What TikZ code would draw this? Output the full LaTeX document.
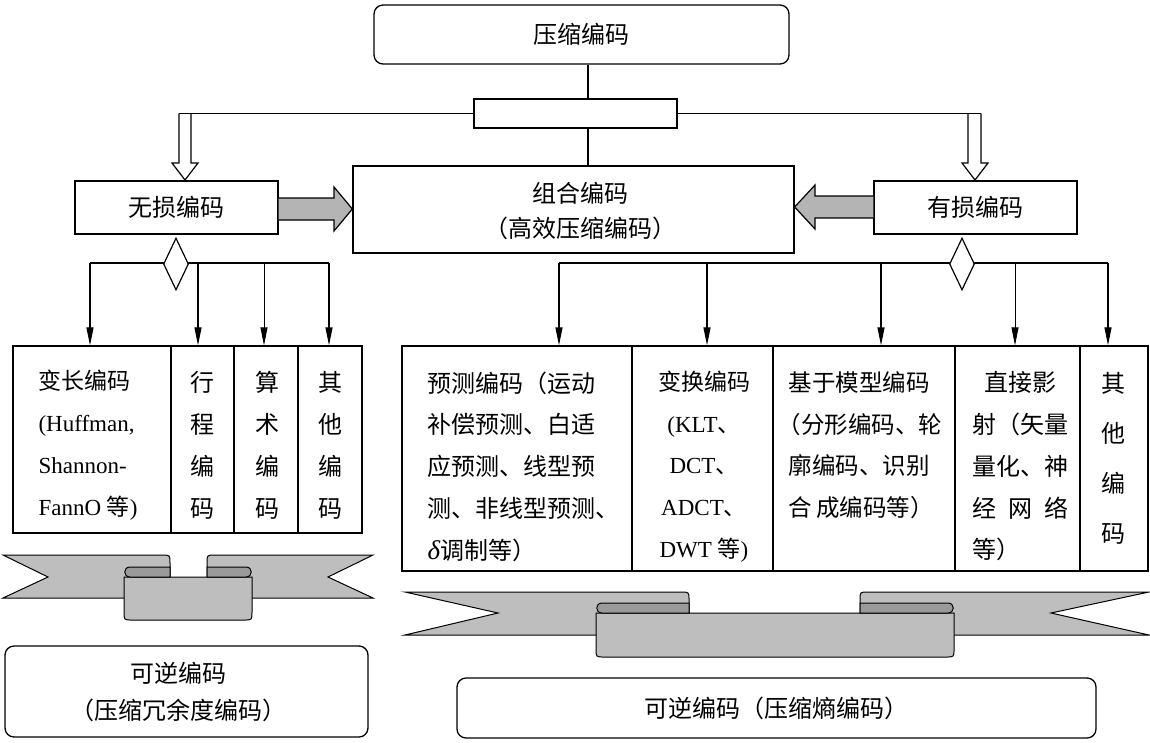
\documentclass[tikz,border=0pt]{standalone}
\usepackage{fontspec}
\setmainfont{Liberation Serif}
\newfontfamily\cjk{Noto Sans CJK SC}
\usetikzlibrary{arrows.meta,shapes.geometric}
\newcommand\zhs[1]{{\cjk #1}}
\definecolor{ribbonlight}{HTML}{BEBEBE}
\definecolor{ribbondark}{HTML}{9A9A9A}
\definecolor{arrowgray}{HTML}{B4B4B4}
\tikzset{
 box/.style={draw, line width=1.3pt, fill=white, inner sep=0pt},
 rbox/.style={box, rounded corners=9pt},
 zh/.style={font=\cjk\fontsize{24}{42}\selectfont},
 mix/.style={font=\fontsize{23}{42}\selectfont},
 conn/.style={line width=1.2pt},
 arr/.style={conn, -{Triangle[length=18pt,width=7pt]}},
 ribbon/.style={draw, line width=1pt, fill=ribbonlight},
 fold/.style={draw, line width=1pt, fill=ribbondark},
 grayarrow/.style={draw, line width=1.2pt, fill=arrowgray},
 hollow/.style={draw, line width=1.2pt, fill=white},
 dia/.style={diamond, draw, line width=1.2pt, fill=white, inner sep=0pt, minimum width=25pt, minimum height=52pt},
}
\begin{document}
\begin{tikzpicture}[x=1pt,y=-1pt]
\fill[white] (0,0) rectangle (1150,742);
\useasboundingbox (0,0) rectangle (1150,742);

% top level
\node[rbox, zh, minimum width=415pt, minimum height=59pt] (top) at (581.5,34.5) {压缩编码};
\node[box, minimum width=203pt, minimum height=29pt] (mid) at (575.5,113.5) {};
\node[box, minimum width=441pt, minimum height=87pt] (combo) at (573.5,209.5) {};
\node[zh, font=\cjk\fontsize{24}{35}\selectfont, align=center] (combot) at (580,211) {组合编码\\（高效压缩编码）};
\node[box, zh, minimum width=203pt, minimum height=53pt] (lossless) at (176.5,207.5) {无损编码};
\node[box, zh, minimum width=203pt, minimum height=53pt] (lossy) at (975.5,207.5) {有损编码};

\coordinate (cx) at (588,0);
\draw[conn] (top.south -| cx) -- (mid.north -| cx);
\draw[conn] (mid.south -| cx) -- (combo.north -| cx);

% hollow arrows
\draw[hollow] (179,113.5) -- (179,163) -- (172,163) -- (185,180) -- (198,163) -- (191,163) -- (191,113.5);
\draw[hollow] (968,113.5) -- (968,163) -- (962,163) -- (975,180) -- (988,163) -- (981,163) -- (981,113.5);
\coordinate (busl) at (179,113.5);
\coordinate (busr) at (981,113.5);
\draw[conn] (busl) -- (mid.west);
\draw[conn] (mid.east) -- (busr);

% gray arrows
\draw[grayarrow] (lossless.east |- 0,198) -- (334,198) -- (334,187) -- (combo.west |- 0,209) -- (334,231) -- (334,220) -- (lossless.east |- 0,220);
\draw[grayarrow] (lossy.west |- 0,196) -- (815,196) -- (815,185) -- (combo.east |- 0,207) -- (815,229) -- (815,218) -- (lossy.west |- 0,218);

% left branch
\coordinate (l1) at (90,263);
\coordinate (l2) at (198,263);
\coordinate (l3) at (264,263);
\coordinate (l4) at (329,263);
\draw[conn] (l1) -- (l4);
\node[dia] (dl) at (176,264) {};

\node[box, minimum width=158pt, minimum height=187pt] (c1) at (92,439.5) {};
\node[box, minimum width=63pt, minimum height=187pt] (c2) at (202.5,439.5) {};
\node[box, minimum width=64pt, minimum height=187pt] (c3) at (266,439.5) {};
\node[box, minimum width=64pt, minimum height=187pt] (c4) at (330,439.5) {};
\draw[arr] (l1) -- (l1 |- c1.north);
\draw[arr] (l2) -- (l2 |- c2.north);
\draw[arr, line width=0.8pt] (l3) -- (l3 |- c3.north);
\draw[arr] (l4) -- (l4 |- c4.north);

\node[mix, align=left, anchor=west] (c1t) at (35,445) {\zhs{变长编码}\\(Huffman,\\Shannon-\\FannO \zhs{等})};
\node[zh, align=center] (c2t) at (202,445) {行\\程\\编\\码};
\node[zh, align=center] (c3t) at (267,445) {算\\术\\编\\码};
\node[zh, align=center] (c4t) at (330,445) {其\\他\\编\\码};

% right branch
\coordinate (r1a) at (559,263);
\coordinate (r2a) at (707,263);
\coordinate (r3a) at (881,263);
\coordinate (r4a) at (1015,263);
\coordinate (r5a) at (1108,263);
\draw[conn] (r1a) -- (r5a);
\node[dia] (dr) at (962,264) {};

\node[box, minimum width=230pt, minimum height=225pt] (r1) at (517,458.5) {};
\node[box, minimum width=141pt, minimum height=225pt] (r2) at (702.5,458.5) {};
\node[box, minimum width=182pt, minimum height=225pt] (r3) at (864,458.5) {};
\node[box, minimum width=125pt, minimum height=225pt] (r4) at (1017.5,458.5) {};
\node[box, minimum width=68pt, minimum height=225pt] (r5) at (1114,458.5) {};
\draw[arr] (r1a) -- (r1a |- r1.north);
\draw[arr] (r2a) -- (r2a |- r2.north);
\draw[arr] (r3a) -- (r3a |- r3.north);
\draw[arr, line width=0.8pt] (r4a) -- (r4a |- r4.north);
\draw[arr] (r5a) -- (r5a |- r5.north);

\node[zh, font=\cjk\fontsize{24}{41.75}\selectfont, align=left, anchor=west] (r1t) at (424,466.5) {预测编码（运动\\补偿预测、白适\\应预测、线型预\\测、非线型预测、\\{\rmfamily\itshape\fontsize{27}{41.75}\selectfont δ}调制等）};
\node[mix, font=\fontsize{23}{41.75}\selectfont, align=center] (r2t) at (704,466.5) {\zhs{变换编码}\\(KLT\zhs{、}\\DCT\zhs{、}\\ADCT\zhs{、}\\DWT \zhs{等})};
\node[zh, font=\cjk\fontsize{23.5}{41.5}\selectfont, align=left, anchor=west] (r3t) at (785,445) {基于模型编码\\\hspace*{-11pt}（分形编码、轮\\廓编码、识别\\合\hspace{4pt}成编码等）};
\node[zh, font=\cjk\fontsize{24}{41.75}\selectfont, align=left, anchor=west] (r4t) at (969,466.5) {\hspace*{12pt}直接影\\射（矢量\\量化、神\\经\hspace{12pt}网\hspace{12pt}络\\等）};
\node[zh, font=\cjk\fontsize{24}{50}\selectfont, align=center] (r5t) at (1113,458) {其\\他\\编\\码};

% left ribbon
\path[ribbon] (3,555) -- (162,555) .. controls (170,555) .. (170,563) -- (170,598) -- (3,598) -- (48,577) -- cycle;
\path[ribbon] (373,555) -- (215,555) .. controls (207,555) .. (207,563) -- (207,598) -- (373,598) -- (328,577) -- cycle;
\path[ribbon] (124,577) -- (124,612) .. controls (124,620) .. (132,620) -- (244,620) .. controls (252,620) .. (252,612) -- (252,577) -- cycle;
\path[fold] (170,567) -- (130,567) .. controls (123,567) and (123,577) .. (130,577) -- (170,577) -- cycle;
\path[fold] (207,567) -- (246,567) .. controls (253,567) and (253,577) .. (246,577) -- (207,577) -- cycle;

% right ribbon
\path[ribbon] (405,592) -- (681,592) .. controls (689,592) .. (689,600) -- (689,635) -- (405,635) -- (498,613) -- cycle;
\path[ribbon] (1149,592) -- (868,592) .. controls (860,592) .. (860,600) -- (860,635) -- (1149,635) -- (1051,613) -- cycle;
\path[ribbon] (596,613) -- (596,649) .. controls (596,657) .. (604,657) -- (946,657) .. controls (954,657) .. (954,649) -- (954,613) -- cycle;
\path[fold] (689,603) -- (602,603) .. controls (595,603) and (595,613) .. (602,613) -- (689,613) -- cycle;
\path[fold] (860,603) -- (948,603) .. controls (955,603) and (955,613) .. (948,613) -- (860,613) -- cycle;

% bottom boxes
\node[rbox, minimum width=363pt, minimum height=91pt] (revl) at (186.5,691.5) {};
\node[zh, font=\cjk\fontsize{24}{37}\selectfont, align=center] (revlt) at (178,692) {可逆编码\\（压缩冗余度编码）};
\node[rbox, zh, minimum width=639pt, minimum height=60pt] (revr) at (776.5,708) {可逆编码（压缩熵编码）};
\end{tikzpicture}
\end{document}
